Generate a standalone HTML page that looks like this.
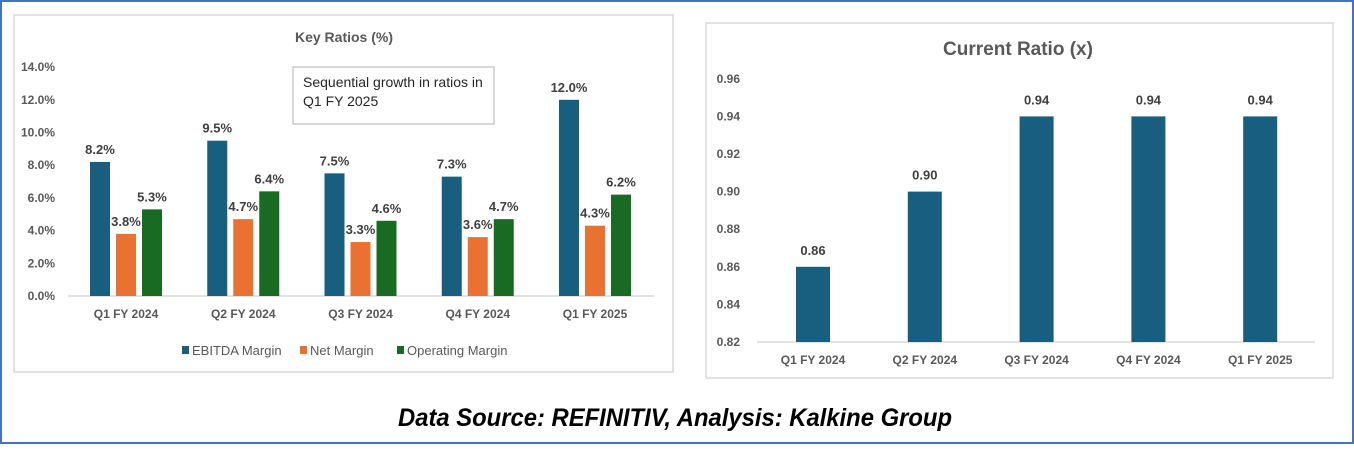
<!DOCTYPE html>
<html><head><meta charset="utf-8">
<style>
html,body{margin:0;padding:0;background:#fff;}
body{width:1354px;height:444px;overflow:hidden;position:relative;font-family:"Liberation Sans Narrow","Liberation Sans",sans-serif;}
svg text{font-family:"Liberation Sans Narrow","Liberation Sans",sans-serif;}
</style></head>
<body>
<svg id="s" width="1354" height="444" viewBox="0 0 1354 444" xmlns="http://www.w3.org/2000/svg">
<rect x="1" y="1" width="1352" height="442" fill="#fff" stroke="#4472c4" stroke-width="2"/>
<rect x="14" y="15" width="659" height="357" fill="#fff" stroke="#d9d9d9" stroke-width="1.5"/>
<rect x="706" y="23" width="627" height="355" fill="#fff" stroke="#d9d9d9" stroke-width="1.5"/>
<text x="344" y="42" text-anchor="middle" font-size="14" font-weight="bold" fill="#595959">Key Ratios (%)</text>
<text x="1018" y="55" text-anchor="middle" font-size="19" font-weight="bold" fill="#595959">Current Ratio (x)</text>
<rect x="293" y="67" width="201" height="57" fill="#fff" stroke="#bfbfbf" stroke-width="1.2"/>
<text x="303" y="87" font-size="14" fill="#262626">Sequential growth in ratios in</text>
<text x="303" y="106" font-size="14" fill="#262626">Q1 FY 2025</text>
<g id="g1"></g><g id="g2"></g>
<text x="398" y="426" textLength="554" lengthAdjust="spacingAndGlyphs" font-size="25" font-weight="bold" font-style="italic" fill="#000">Data Source: REFINITIV, Analysis: Kalkine Group</text>
</svg>
<script>
const categories=["Q1 FY 2024","Q2 FY 2024","Q3 FY 2024","Q4 FY 2024","Q1 FY 2025"];
const ebitda=[8.2,9.5,7.5,7.3,12.0];
const netMargin=[3.8,4.7,3.3,3.6,4.3];
const opMargin=[5.3,6.4,4.6,4.7,6.2];
const leftTicks=[0,2,4,6,8,10,12,14];
const currentRatio=[0.86,0.90,0.94,0.94,0.94];
const rightTicks=[0.82,0.84,0.86,0.88,0.90,0.92,0.94,0.96];
const NS="http://www.w3.org/2000/svg";
function mk(p,tag,attrs,txt){const e=document.createElementNS(NS,tag);for(const k in attrs)e.setAttribute(k,attrs[k]);if(txt!==undefined)e.textContent=txt;p.appendChild(e);return e;}
// left chart
const g1=document.getElementById('g1');
const ly=v=>296-v*16.35;
const lx=i=>126+i*117.25;
leftTicks.forEach(t=>{const e=mk(g1,'text',{x:55,y:ly(t)+4,'text-anchor':'end','font-size':12,'font-weight':'bold',fill:'#595959'},t.toFixed(1)+'%');

});
const ax1=mk(g1,'line',{x1:68,x2:654,y1:296,y2:296,stroke:'#d9d9d9','stroke-width':1.5});


const series=[[ebitda,'#175e7f',-26,'ebitda'],[netMargin,'#e97132',0,'net'],[opMargin,'#196b24',26,'operating']];
categories.forEach((c,i)=>{
 series.forEach(([arr,col,off,nm])=>{
  const cx=lx(i)+off,v=arr[i];
  const r=mk(g1,'rect',{x:cx-10,y:ly(v),width:20,height:296-ly(v),fill:col});
  
  
  const t=mk(g1,'text',{x:cx,y:ly(v)-8,'text-anchor':'middle','font-size':13,'font-weight':'bold',fill:'#404040'},v.toFixed(1)+'%');
  
  
 });
 const t=mk(g1,'text',{x:lx(i),y:318,'text-anchor':'middle','font-size':12,'font-weight':'bold',fill:'#595959'},c);
 
 
});
const leg=[["EBITDA Margin",'#175e7f',182],["Net Margin",'#e97132',300],["Operating Margin",'#196b24',397]];
leg.forEach(([n,c,x])=>{
 const r=mk(g1,'rect',{x:x,y:346,width:7,height:8,fill:c});
 
 
 const t=mk(g1,'text',{x:x+10,y:355,'font-size':13,fill:'#595959'},n);
 
 
});
// right chart
const g2=document.getElementById('g2');
const ry=v=>342-(v-0.82)*1880;
const rx=i=>813+i*111.8;
rightTicks.forEach(t=>{const e=mk(g2,'text',{x:740,y:ry(t)+4,'text-anchor':'end','font-size':12,'font-weight':'bold',fill:'#595959'},t.toFixed(2));

});
const ax2=mk(g2,'line',{x1:757,x2:1315,y1:342,y2:342,stroke:'#d9d9d9','stroke-width':1.5});


categories.forEach((c,i)=>{
 const v=currentRatio[i];
 const r=mk(g2,'rect',{x:rx(i)-17,y:ry(v),width:34,height:342-ry(v),fill:'#175e7f'});
 
 
 const t=mk(g2,'text',{x:rx(i),y:ry(v)-12,'text-anchor':'middle','font-size':13,'font-weight':'bold',fill:'#404040'},v.toFixed(2));
 
 
 const l=mk(g2,'text',{x:rx(i),y:364,'text-anchor':'middle','font-size':12,'font-weight':'bold',fill:'#595959'},c);
 
 
});
</script>
</body></html>
